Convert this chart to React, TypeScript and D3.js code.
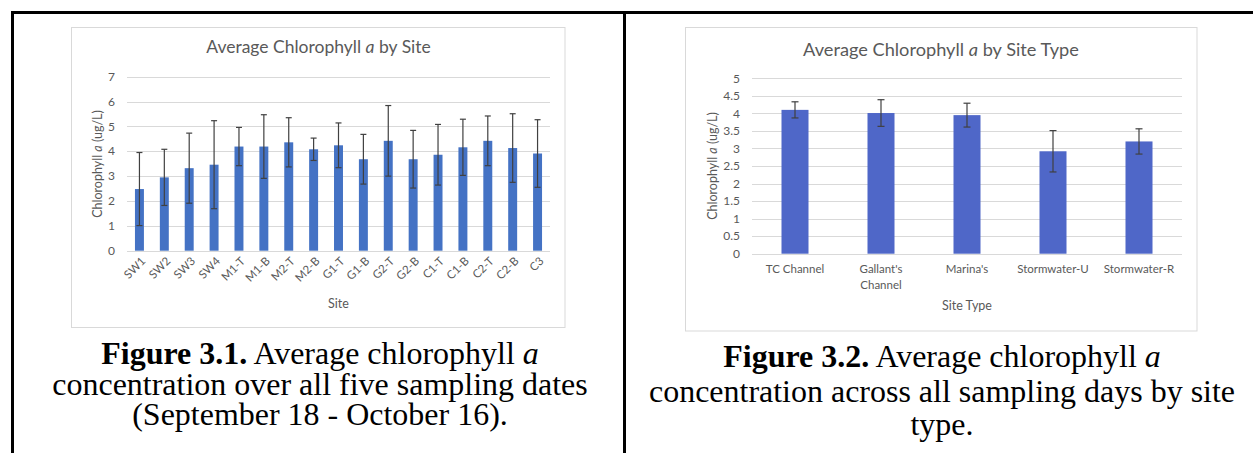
import React from "react";
import * as d3 from "d3";

// Figure 3.1 data
const sites = ["SW1","SW2","SW3","SW4","M1-T","M1-B","M2-T","M2-B","G1-T","G1-B","G2-T","G2-B","C1-T","C1-B","C2-T","C2-B","C3"];
const siteMeans = [2.48,2.95,3.32,3.46,4.19,4.19,4.36,4.08,4.24,3.68,4.42,3.68,3.86,4.16,4.42,4.13,3.91];
const siteErrors = [1.47,1.13,1.41,1.77,0.77,1.28,0.99,0.45,0.9,1.0,1.42,1.16,1.22,1.13,1.0,1.38,1.36];
const siteTicks = [0,1,2,3,4,5,6,7];

// Figure 3.2 data
const siteTypes = ["TC Channel","Gallant's\nChannel","Marina's","Stormwater-U","Stormwater-R"];
const typeMeans = [4.1,4.01,3.95,2.92,3.2];
const typeErrors = [0.23,0.38,0.34,0.59,0.36];
const typeTicks = [0,0.5,1,1.5,2,2.5,3,3.5,4,4.5,5];

const FONT = "Lato, 'Open Sans', sans-serif";
const SERIF = "'Liberation Serif', 'Times New Roman', serif";
const GRAY = "#595959";
const GRID = "#d9d9d9";

function YTitle({ x, y }: { x: number; y: number }) {
  return (
    <text transform={`translate(${x},${y}) rotate(-90)`} textAnchor="middle" fontSize={12.5} fill={GRAY} fontFamily={FONT}>
      Chlorophyll <tspan fontStyle="italic">a</tspan> (ug/L)
    </text>
  );
}

function Chart1() {
  const x = d3.scaleBand<string>().domain(sites).range([127, 550]).paddingInner(0.64).paddingOuter(0.32);
  const y = d3.scaleLinear().domain([0, 7]).range([250.7, 76.7]);
  return (
    <g>
      <rect x={71.5} y={27.5} width={493.5} height={300} fill="#fff" stroke={GRID} strokeWidth={1} />
      <text x={318.5} y={53} textAnchor="middle" fontSize={17.5} fill={GRAY} fontFamily={FONT}>
        Average Chlorophyll <tspan fontStyle="italic">a</tspan> by Site
      </text>
      {siteTicks.map((t) => (
        <g key={t}>
          <line x1={127} x2={550} y1={Math.round(y(t)) + 0.5} y2={Math.round(y(t)) + 0.5} stroke={GRID} strokeWidth={1} />
          <text x={115} y={y(t)} dy="0.35em" textAnchor="end" fontSize={12} fill={GRAY} fontFamily={FONT}>{t}</text>
        </g>
      ))}
      {sites.map((s, i) => {
        const cx = (x(s) as number) + x.bandwidth() / 2;
        const hi = y(siteMeans[i] + siteErrors[i]);
        const lo = y(siteMeans[i] - siteErrors[i]);
        return (
          <g key={s}>
            <rect x={x(s)} y={y(siteMeans[i])} width={x.bandwidth()} height={y(0) - y(siteMeans[i])} fill="#4472c4" />
            <line x1={cx} x2={cx} y1={hi} y2={lo} stroke="#404040" strokeWidth={1.2} />
            <line x1={cx - 3} x2={cx + 3} y1={hi} y2={hi} stroke="#404040" strokeWidth={1.2} />
            <line x1={cx - 3} x2={cx + 3} y1={lo} y2={lo} stroke="#404040" strokeWidth={1.2} />
            <text transform={`translate(${cx + 4},${259}) rotate(-45)`} dy="0.35em" textAnchor="end" fontSize={11.5} fill={GRAY} fontFamily={FONT}>{s}</text>
          </g>
        );
      })}
      <text x={338.5} y={308} textAnchor="middle" fontSize={12.5} fill={GRAY} fontFamily={FONT}>Site</text>
      <YTitle x={102} y={164} />
    </g>
  );
}

function Chart2() {
  const x = d3.scaleBand<string>().domain(siteTypes).range([752, 1182]).paddingInner(0.686).paddingOuter(0.343);
  const y = d3.scaleLinear().domain([0, 5]).range([253.7, 78.3]);
  return (
    <g>
      <rect x={685.5} y={27.5} width={511.5} height={303.5} fill="#fff" stroke={GRID} strokeWidth={1} />
      <text x={941} y={56} textAnchor="middle" fontSize={18.2} fill={GRAY} fontFamily={FONT}>
        Average Chlorophyll <tspan fontStyle="italic">a</tspan> by Site Type
      </text>
      {typeTicks.map((t) => (
        <g key={t}>
          <line x1={752} x2={1182} y1={Math.round(y(t)) + 0.5} y2={Math.round(y(t)) + 0.5} stroke={GRID} strokeWidth={1} />
          <text x={740} y={y(t)} dy="0.35em" textAnchor="end" fontSize={12} fill={GRAY} fontFamily={FONT}>{t}</text>
        </g>
      ))}
      {siteTypes.map((s, i) => {
        const cx = (x(s) as number) + x.bandwidth() / 2;
        const hi = y(typeMeans[i] + typeErrors[i]);
        const lo = y(typeMeans[i] - typeErrors[i]);
        const lines = s.split("\n");
        return (
          <g key={s}>
            <rect x={x(s)} y={y(typeMeans[i])} width={x.bandwidth()} height={y(0) - y(typeMeans[i])} fill="#4f67c8" />
            <line x1={cx} x2={cx} y1={hi} y2={lo} stroke="#404040" strokeWidth={1.2} />
            <line x1={cx - 3.5} x2={cx + 3.5} y1={hi} y2={hi} stroke="#404040" strokeWidth={1.2} />
            <line x1={cx - 3.5} x2={cx + 3.5} y1={lo} y2={lo} stroke="#404040" strokeWidth={1.2} />
            {lines.map((l, j) => (
              <text key={j} x={cx} y={273 + j * 16} textAnchor="middle" fontSize={11.5} fill={GRAY} fontFamily={FONT}>{l}</text>
            ))}
          </g>
        );
      })}
      <text x={967} y={310} textAnchor="middle" fontSize={12.5} fill={GRAY} fontFamily={FONT}>Site Type</text>
      <YTitle x={717} y={166} />
    </g>
  );
}

function Caption({ cx, lines, ys, num }: { cx: number; lines: string[]; ys: number[]; num: string }) {
  return (
    <g transform={`translate(${cx},0) scale(1.032,1)`} fontFamily={SERIF} fontSize={31} fill="#000">
      <text x={0} y={ys[0]} textAnchor="middle">
        <tspan fontWeight="bold">{`Figure ${num}.`}</tspan> Average chlorophyll <tspan fontStyle="italic">a</tspan>
      </text>
      {lines.map((l, i) => (
        <text key={i} x={0} y={ys[i + 1]} textAnchor="middle">{l}</text>
      ))}
    </g>
  );
}

export default function App() {
  return (
    <svg width={1253} height={453} style={{ position: "absolute", left: 0, top: 0, background: "#fff" }}>
      <rect x={0} y={0} width={1253} height={453} fill="#fff" />
      <line x1={11} x2={1253} y1={12.5} y2={12.5} stroke="#000" strokeWidth={3} />
      <line x1={12.5} x2={12.5} y1={11} y2={453} stroke="#000" strokeWidth={3} />
      <line x1={624.5} x2={624.5} y1={11} y2={453} stroke="#000" strokeWidth={3} />
      <Chart1 />
      <Chart2 />
      <Caption cx={320} num="3.1" lines={["concentration over all five sampling dates", "(September 18 - October 16)."]} ys={[364, 395, 425]} />
      <Caption cx={942} num="3.2" lines={["concentration across all sampling days by site", "type."]} ys={[367, 402, 435]} />
    </svg>
  );
}
